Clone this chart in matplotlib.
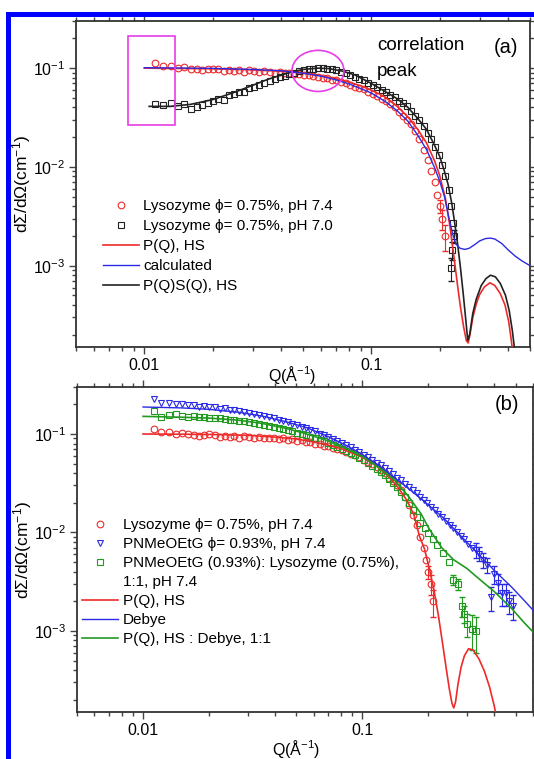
#!/usr/bin/python
# coding=utf-8

"""
SANS curves of lysozyme and PNMeOEtG, two stacked log-log panels (a) and (b).
"""

import matplotlib
matplotlib.use("Agg")

import matplotlib.pyplot as plt
from matplotlib.lines   import Line2D
from matplotlib.patches import Rectangle, Ellipse
from matplotlib.ticker  import LogLocator, NullFormatter

plt.rcParams["font.family"]      = ["Liberation Sans", "DejaVu Sans"]
plt.rcParams["mathtext.default"] = "regular"

# ------------------------------------------------------------------------------
# Data.
# ------------------------------------------------------------------------------

# Q grid shared by the measured data sets (A^-1).
q_common = [0.0112, 0.0121, 0.0131, 0.0141, 0.0150, 0.0160, 0.0170, 0.0180,
            0.0190, 0.0200, 0.0212, 0.0224, 0.0236, 0.0248, 0.0260, 0.0275,
            0.0290, 0.0305, 0.0320, 0.0338, 0.0356, 0.0375, 0.0395, 0.0415,
            0.0435, 0.0458, 0.0480, 0.0505, 0.0530, 0.0555, 0.0580, 0.0610,
            0.0640, 0.0670, 0.0700, 0.0735, 0.0770, 0.0805, 0.0845, 0.0885,
            0.0925, 0.0970, 0.1015, 0.1060, 0.1110, 0.1160, 0.1210, 0.1265,
            0.1320, 0.1380, 0.1440, 0.1500, 0.1565, 0.1630, 0.1700]

# Lysozyme 0.75 %, pH 7.4 (red circles, both panels)
q_lyso74 = q_common + [0.1770, 0.1840, 0.1900, 0.1950, 0.2000, 0.2050, 0.2110]
i_lyso74 = [0.112, 0.105, 0.104, 0.101, 0.103, 0.099, 0.097, 0.096, 0.098,
            0.099, 0.097, 0.094, 0.096, 0.094, 0.096, 0.092, 0.095, 0.093,
            0.091, 0.094, 0.091, 0.090, 0.092, 0.089, 0.090, 0.087, 0.088,
            0.085, 0.086, 0.083, 0.082, 0.080, 0.079, 0.076, 0.075, 0.072,
            0.070, 0.068, 0.065, 0.063, 0.061, 0.058, 0.055, 0.052, 0.049,
            0.046, 0.043, 0.040, 0.036, 0.033, 0.030, 0.027, 0.023, 0.019,
            0.0150,
            0.0118, 0.0090, 0.0070, 0.0052, 0.0040, 0.0030, 0.0020]
e_lyso74 = [0.0006, 0.0007, 0.0006]

# Lysozyme 0.75 %, pH 7.0 (black squares, panel a)
q_lyso70 = q_common + [0.1770, 0.1840, 0.1910, 0.1980, 0.2050, 0.2120,
                       0.2190, 0.2240, 0.2290, 0.2320, 0.2260, 0.2240]
i_lyso70 = [0.043, 0.042, 0.044, 0.041, 0.043, 0.039, 0.040, 0.042, 0.044,
            0.047, 0.049, 0.048, 0.053, 0.055, 0.057, 0.058, 0.063, 0.065,
            0.068, 0.071, 0.074, 0.078, 0.081, 0.084, 0.087, 0.090, 0.093,
            0.095, 0.097, 0.099, 0.100, 0.100, 0.099, 0.097, 0.095, 0.092,
            0.089, 0.086, 0.082, 0.078, 0.075, 0.071, 0.067, 0.064, 0.060,
            0.057, 0.054, 0.051, 0.047, 0.044, 0.041, 0.037, 0.033, 0.030,
            0.026,
            0.022, 0.019, 0.0160, 0.0133, 0.0105, 0.0080, 0.0058, 0.0040,
            0.0027, 0.0020, 0.00145, 0.00095]
e_lyso70 = [0.0003, 0.0003, 0.00025]

# PNMeOEtG 0.93 %, pH 7.4 (blue triangles, panel b)
q_polym = q_common + [0.1770, 0.1840, 0.1910, 0.1980, 0.2060, 0.2140, 0.2220,
                      0.2310, 0.2400, 0.2500, 0.2600, 0.2700, 0.2810, 0.2920,
                      0.3040, 0.3160, 0.3290, 0.3420, 0.3560, 0.3700, 0.3850,
                      0.4000, 0.4160, 0.4330, 0.4500, 0.4680, 0.4870]
i_polym = [0.225, 0.205, 0.208, 0.200, 0.203, 0.195, 0.197, 0.190, 0.192,
           0.186, 0.188, 0.181, 0.183, 0.176, 0.174, 0.170, 0.168, 0.163,
           0.160, 0.156, 0.152, 0.148, 0.144, 0.140, 0.136, 0.131, 0.127,
           0.122, 0.118, 0.114, 0.110, 0.106, 0.101, 0.097, 0.093, 0.089,
           0.085, 0.081, 0.077, 0.073, 0.069, 0.065, 0.061, 0.058, 0.054,
           0.051, 0.048, 0.045, 0.042, 0.039, 0.036, 0.034, 0.031, 0.029,
           0.027,
           0.025, 0.023, 0.0215, 0.0198, 0.0183, 0.0168, 0.0155, 0.0143,
           0.0131, 0.0120, 0.0110, 0.0101, 0.0093, 0.0085, 0.0077, 0.0070,
           0.0067, 0.0061, 0.0053, 0.0047, 0.0022, 0.0038, 0.0031, 0.0024,
           0.0024, 0.0020, 0.0018]
e_polym = [0.0012, 0.0010, 0.0009, 0.0008, 0.0006, 0.0008, 0.0007, 0.0006,
           0.0006, 0.0005, 0.0005]

# PNMeOEtG : lysozyme 1:1, pH 7.4 (green squares, panel b)
q_mixed = q_common + [0.1770, 0.1840, 0.1920, 0.2000, 0.2100, 0.2200, 0.2340,
                      0.2480, 0.2600, 0.2740, 0.2850, 0.2900, 0.3000, 0.3170,
                      0.3280]
i_mixed = [0.172, 0.150, 0.155, 0.160, 0.152, 0.150, 0.153, 0.148, 0.150,
           0.147, 0.144, 0.146, 0.141, 0.139, 0.140, 0.136, 0.134, 0.131,
           0.129, 0.126, 0.124, 0.121, 0.118, 0.115, 0.112, 0.109, 0.106,
           0.103, 0.100, 0.097, 0.094, 0.091, 0.087, 0.084, 0.081, 0.078,
           0.074, 0.071, 0.067, 0.064, 0.061, 0.057, 0.054, 0.051, 0.047,
           0.044, 0.041, 0.038, 0.035, 0.032, 0.029, 0.026, 0.023, 0.020,
           0.0170,
           0.0145, 0.0125, 0.0110, 0.0098, 0.0085, 0.0074, 0.0062, 0.0050,
           0.0033, 0.0030, 0.0018, 0.0015, 0.00117, 0.00104, 0.00100]
e_mixed = [0.0004, 0.0004, 0.0004, 0.0003, 0.0003, 0.0004, 0.0004]

# Model curves, panel (a)
q_phs_a = [0.0100, 0.0200, 0.0300, 0.0400, 0.0500, 0.0600, 0.0700, 0.0800,
           0.0900, 0.100, 0.115, 0.130, 0.145, 0.160, 0.175, 0.190, 0.200,
           0.212, 0.222, 0.232, 0.240, 0.247, 0.255, 0.262, 0.267, 0.272,
           0.280, 0.290, 0.300, 0.315, 0.333, 0.350, 0.370, 0.388, 0.403,
           0.413, 0.420]
i_phs_a = [0.100, 0.0985, 0.096, 0.093, 0.089, 0.084, 0.078, 0.072, 0.066,
           0.060, 0.051, 0.041, 0.032, 0.024, 0.0175, 0.0115, 0.0082,
           0.0048, 0.0025, 0.00115, 0.00062, 0.00038, 0.00024, 0.000175,
           0.000165, 0.00020, 0.00030, 0.00041, 0.00051, 0.00061, 0.00067,
           0.00063, 0.00052, 0.00040, 0.00027, 0.00018, 0.00013]

q_calc = [0.0100, 0.0200, 0.0300, 0.0400, 0.0500, 0.0600, 0.0700, 0.0800,
          0.0900, 0.100, 0.115, 0.130, 0.145, 0.160, 0.175, 0.190, 0.200,
          0.210, 0.220, 0.228, 0.236, 0.246, 0.258, 0.270, 0.285, 0.300,
          0.318, 0.335, 0.350, 0.375, 0.400, 0.430, 0.460, 0.500]
i_calc = [0.101, 0.0995, 0.097, 0.094, 0.089, 0.083, 0.076, 0.069, 0.062,
          0.056, 0.046, 0.037, 0.029, 0.021, 0.015, 0.0098, 0.0072, 0.0050,
          0.0030, 0.0021, 0.00165, 0.00150, 0.00146, 0.00150, 0.00163,
          0.00178, 0.00188, 0.00190, 0.00186, 0.00168, 0.00145, 0.00125,
          0.00112, 0.00100]

q_pqsq = [0.0105, 0.0130, 0.0160, 0.0200, 0.0250, 0.0300, 0.0350, 0.0400,
          0.0450, 0.0500, 0.0580, 0.0650, 0.0750, 0.0850, 0.100, 0.115, 0.130,
          0.145, 0.160, 0.175, 0.190, 0.200, 0.210, 0.218, 0.226, 0.233,
          0.240, 0.247, 0.254, 0.260, 0.266, 0.271, 0.280, 0.290, 0.305,
          0.320, 0.335, 0.352, 0.370, 0.390, 0.405, 0.418, 0.428]
i_pqsq = [0.041, 0.041, 0.043, 0.048, 0.057, 0.067, 0.077, 0.085, 0.092,
          0.097, 0.100, 0.099, 0.093, 0.085, 0.070, 0.058, 0.049, 0.040,
          0.031, 0.024, 0.0165, 0.0128, 0.0090, 0.0066, 0.0043, 0.0027,
          0.00165, 0.00095, 0.00052, 0.00030, 0.000175, 0.00020, 0.00033,
          0.00046, 0.00063, 0.00074, 0.00080, 0.00077, 0.00066, 0.00050,
          0.00035, 0.00022, 0.00014]

# Model curves, panel (b)
q_phs_b = [0.0100, 0.0200, 0.0300, 0.0400, 0.0500, 0.0600, 0.0700, 0.0800,
           0.0900, 0.100, 0.115, 0.130, 0.145, 0.160, 0.172, 0.182, 0.192,
           0.202, 0.212, 0.222, 0.232, 0.241, 0.249, 0.256, 0.261, 0.266,
           0.273, 0.282, 0.292, 0.305, 0.320, 0.340, 0.360, 0.380, 0.400,
           0.412]
i_phs_b = [0.100, 0.099, 0.097, 0.093, 0.089, 0.083, 0.077, 0.071, 0.064,
           0.058, 0.048, 0.038, 0.029, 0.021, 0.0150, 0.0092, 0.0068, 0.0043,
           0.0026, 0.00145, 0.00075, 0.00042, 0.00026, 0.000185, 0.000165,
           0.00019, 0.00029, 0.00043, 0.00056, 0.00066, 0.00064, 0.00052,
           0.00039, 0.00027, 0.00017, 0.00012]

q_debye = [0.0100, 0.0150, 0.0200, 0.0273, 0.0350, 0.0450, 0.0558, 0.0700,
           0.0850, 0.100, 0.120, 0.140, 0.163, 0.190, 0.234, 0.280, 0.334,
           0.400, 0.478, 0.540, 0.604]
i_debye = [0.188, 0.184, 0.178, 0.166, 0.152, 0.133, 0.116, 0.094, 0.076,
           0.062, 0.047, 0.036, 0.0277, 0.021, 0.0141, 0.0093, 0.0062, 0.0041,
           0.0028, 0.0021, 0.0016]

q_mix = [0.0100, 0.0150, 0.0200, 0.0273, 0.0350, 0.0450, 0.0558, 0.0700,
         0.0850, 0.100, 0.120, 0.140, 0.163, 0.185, 0.202, 0.230, 0.260,
         0.300, 0.334, 0.400, 0.478, 0.540, 0.604]
i_mix = [0.151, 0.148, 0.145, 0.138, 0.128, 0.114, 0.100, 0.085, 0.070,
         0.059, 0.045, 0.034, 0.023, 0.0155, 0.0108, 0.0070, 0.0053, 0.0043,
         0.0035, 0.0025, 0.0017, 0.00125, 0.00096]

# Legend texts
labels_a = ["Lysozyme \u03d5= 0.75%, pH 7.4", "Lysozyme \u03d5= 0.75%, pH 7.0",
            "P(Q), HS", "calculated", "P(Q)S(Q), HS"]
labels_b = ["Lysozyme \u03d5= 0.75%, pH 7.4", "PNMeOEtG \u03d5= 0.93%, pH 7.4",
            "PNMeOEtG (0.93%): Lysozyme (0.75%),", "1:1, pH 7.4",
            "P(Q), HS", "Debye", "P(Q), HS : Debye, 1:1"]

# Colours
red    = "#ee2a2a"
blue   = "#2a2ae6"
green  = "#229a22"
black  = "#222222"
violet = "#e83ce8"


def style_axes(ax, xmax):

    ax.set_xscale("log")
    ax.set_yscale("log")
    ax.set_xlim(0.005, xmax)
    ax.set_ylim(1.5e-4, 0.3)
    ax.set_xticks([0.01, 0.1])
    ax.set_xticklabels(["0.01", "0.1"])
    ax.xaxis.set_minor_locator(LogLocator(base = 10, subs = range(2, 10)))
    ax.xaxis.set_minor_formatter(NullFormatter())
    ax.tick_params(which = "both", direction = "out", top = True, right = True,
                   labelsize = 11.5, width = 1.0, color = "#444444")
    ax.tick_params(which = "major", length = 5, pad = 3)
    ax.tick_params(which = "minor", length = 3)
    for spine in ax.spines.values():
        spine.set_linewidth(1.3)
        spine.set_color("#333333")
    ax.set_ylabel("d\u03a3/d\u03a9(cm$^{-1}$)", fontsize = 12.5)
    ax.set_xlabel("Q(\u00c5$^{-1}$)", fontsize = 11.5)


def data_points(ax, q, i, err, marker, color, size):

    h, = ax.plot(q, i, linestyle = "none", marker = marker, markersize = size,
                 markerfacecolor = "none", markeredgecolor = color,
                 markeredgewidth = 0.8, zorder = 2)
    n = len(err)
    ax.errorbar(q[-n:], i[-n:], yerr = err, fmt = "none", ecolor = color,
                elinewidth = 0.8, capsize = 2, zorder = 2)
    return h


fig = plt.figure(figsize = (5.34, 7.59), dpi = 100)

# ------------------------------------------------------------------------------
# Panel (a)
# ------------------------------------------------------------------------------
ax1 = fig.add_axes([0.1423, 0.5428, 0.8502, 0.4295])

h_red   = data_points(ax1, q_lyso74, i_lyso74, e_lyso74, "o", red,   4.8)
h_black = data_points(ax1, q_lyso70, i_lyso70, e_lyso70, "s", black, 4.2)
l_phs,  = ax1.plot(q_phs_a, i_phs_a, color = red,   lw = 1.2, zorder = 3)
l_calc, = ax1.plot(q_calc,  i_calc,  color = blue,  lw = 1.0, zorder = 4)
l_pqsq, = ax1.plot(q_pqsq,  i_pqsq,  color = black, lw = 1.2, zorder = 3)

style_axes(ax1, 0.5)
ax1.xaxis.set_label_coords(0.476, -0.052)
ax1.yaxis.set_label_coords(-0.095, 0.5)

ax1.legend([h_red, h_black, l_phs, l_calc, l_pqsq], labels_a,
           loc = "upper left", bbox_to_anchor = (0.059, 0.454), frameon = False,
           fontsize = 11, handlelength = 2.36, handletextpad = 0.3,
           labelspacing = 0.4, borderpad = 0, borderaxespad = 0, numpoints = 1)

# Highlight of the low-Q plateau and of the correlation peak
ax1.add_patch(Rectangle((0.0085, 0.0267), 0.0137 - 0.0085, 0.214 - 0.0267,
                        fill = False, edgecolor = violet, lw = 1.2, zorder = 5))
ax1.add_patch(Ellipse((0.533, 0.847), 0.1145, 0.126, transform = ax1.transAxes,
                      fill = False, edgecolor = violet, lw = 1.2, zorder = 5))

ax1.text(0.663, 0.926, "correlation", transform = ax1.transAxes,
         fontsize = 13.5, ha = "left", va = "center")
ax1.text(0.663, 0.844, "peak", transform = ax1.transAxes,
         fontsize = 13.5, ha = "left", va = "center")
ax1.text(0.947, 0.920, "(a)", transform = ax1.transAxes,
         fontsize = 14.5, ha = "center", va = "center")

# ------------------------------------------------------------------------------
# Panel (b)
# ------------------------------------------------------------------------------
ax2 = fig.add_axes([0.1442, 0.0619, 0.8540, 0.4282])

h_red2  = data_points(ax2, q_lyso74, i_lyso74, e_lyso74, "o", red,   4.8)
h_polym = data_points(ax2, q_polym,  i_polym,  e_polym,  "v", blue,  5.0)
h_mixed = data_points(ax2, q_mixed,  i_mixed,  e_mixed,  "s", green, 4.2)
l_phs2, = ax2.plot(q_phs_b, i_phs_b, color = red,   lw = 1.2, zorder = 3)
l_deb,  = ax2.plot(q_debye, i_debye, color = blue,  lw = 1.0, zorder = 3)
l_mix,  = ax2.plot(q_mix,   i_mix,   color = green, lw = 1.2, zorder = 3)

style_axes(ax2, 0.6)
ax2.xaxis.set_label_coords(0.48, -0.08)
ax2.yaxis.set_label_coords(-0.095, 0.5)

blank = Line2D([], [], linestyle = "none")
ax2.legend([h_red2, h_polym, h_mixed, blank, l_phs2, l_deb, l_mix], labels_b,
           loc = "upper left", bbox_to_anchor = (0.011, 0.597), frameon = False,
           fontsize = 11, handlelength = 2.36, handletextpad = 0.3,
           labelspacing = 0.33, borderpad = 0, borderaxespad = 0, numpoints = 1)

ax2.text(0.943, 0.945, "(b)", transform = ax2.transAxes,
         fontsize = 14.5, ha = "center", va = "center")

# Blue frame around the whole figure (only left and top edges are visible)
fig.patches.append(Rectangle((0.0144, -0.05), 1.2, 1.0309, transform = fig.transFigure,
                             fill = False, edgecolor = "#0000ff", lw = 3.6))

fig.savefig("out.png", dpi = 100)
